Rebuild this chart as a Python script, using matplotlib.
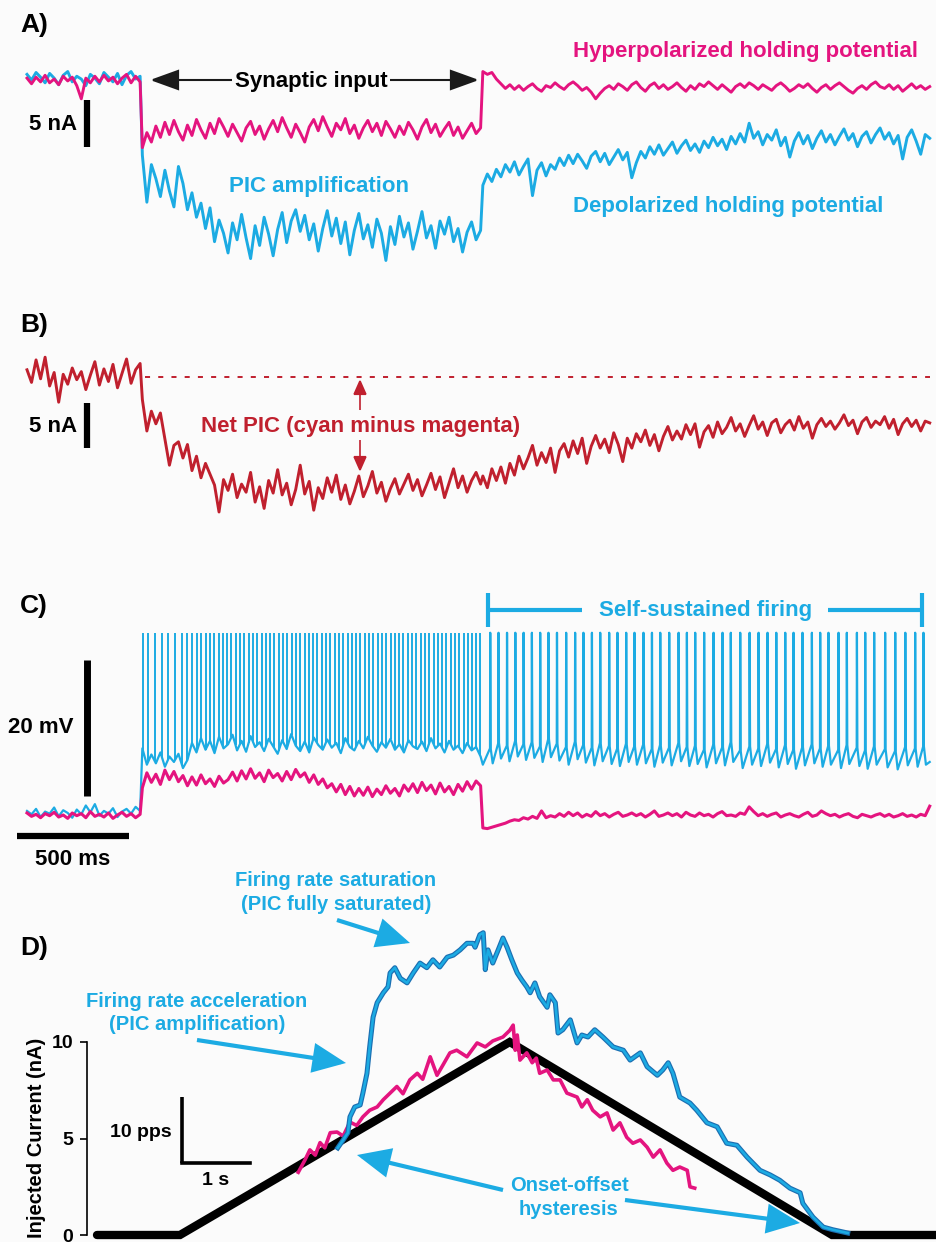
import numpy as np
import matplotlib
matplotlib.use("Agg")
import matplotlib.pyplot as plt
from matplotlib.patches import FancyArrowPatch
from matplotlib.lines import Line2D
import matplotlib.patheffects as pe

# ======================= DATA =======================
T_ONSET, T_OFFSET, T_END = 510, 2030, 4030          # ms (panels A-C)

# ---- Panel A : holding current (nA, relative to baseline)
A_MAG_PRE = [0.2, -0.4, 0.3, -0.2, 0.5, -0.3, 0.1, -0.5, 0.4, -0.1, 0.3, -0.6, -2.0, 0.2, -0.3, 0.4,
             -0.2, 0.5, -0.1, 0.3, -0.4, 0.2, 0.6, -0.3, 0.4, -0.2]
A_MAG_DUR = [-7.2, -5.6, -6.6, -4.9, -6.1, -4.5, -5.8, -4.3, -5.5, -6.4, -4.8, -5.9, -4.2, -5.3, -6.2, -4.6,
             -5.7, -4.1, -5.0, -6.0, -4.7, -5.6, -6.5, -5.1, -4.4, -5.8, -4.9, -6.3, -5.2, -4.3, -5.5, -4.0,
             -5.1, -6.1, -4.7, -5.6, -6.6, -5.0, -4.2, -5.4, -3.9, -5.0, -6.0, -4.6, -5.3, -4.1, -5.7, -4.8,
             -6.2, -5.1, -4.3, -5.5, -4.6, -5.9, -4.4, -5.2, -6.1, -4.9, -5.8, -4.5, -5.3, -6.3, -5.0, -4.2,
             -5.6, -4.7, -6.0, -5.2, -4.5, -5.9, -5.0, -6.2, -5.4, -4.6, -5.7, -5.1]
A_MAG_POST = [0.9, 0.6, 0.8, 0.1, -0.4, -0.9, -0.5, -1.0, -0.6, -1.1, -0.7, -0.4, -0.9, -1.2, -0.6, -0.8,
              -0.3, -0.7, -1.0, -0.5, -0.2, -0.6, -1.1, -0.8, -1.3, -2.0, -1.4, -0.9, -0.6, -1.0, -0.4, -0.7,
              -1.1, -0.5, -0.2, -0.8, -1.2, -0.6, -0.3, -0.9, -0.5, -1.0, -0.7, -0.3, -0.8, -1.2, -0.6, -1.0,
              -0.4, -0.7, -0.2, -0.6, -1.0, -0.5, -0.9, -1.3, -0.7, -0.4, -0.8, -0.3, -0.6, -1.0, -0.5, -0.8,
              -1.1, -0.6, -0.3, -0.7, -1.2, -0.9, -0.5, -0.8, -0.4, -0.9, -1.3, -0.8, -0.5, -1.0, -0.6, -0.3,
              -0.7, -1.1, -1.4, -0.9, -0.6, -1.0, -0.5, -0.2, -0.7, -0.9, -0.5, -1.0, -0.6, -1.2, -0.8, -0.4,
              -0.9, -0.6, -1.0, -0.7]
A_CYAN_PRE = [0.6, 0.0, 0.8, 0.3, -0.3, 0.7, 0.2, -0.5, 0.5, 0.9, -0.2, 0.4, 0.1, -0.6, 0.6, 0.2,
              -0.4, 0.8, 0.3, -0.2, 0.7, -0.5, 0.5, 0.9, 0.1, 0.4]
A_CYAN_DUR = [-8.0, -13.0, -9.0, -10.5, -12.4, -9.6, -11.8, -13.5, -9.2, -11.0, -13.8, -12.0, -14.6, -13.1,
              -15.8, -13.6, -17.2, -14.9, -16.3, -18.4, -15.2, -17.0, -14.3, -16.8, -19.0, -15.5, -17.6,
              -14.6, -16.4, -18.7, -15.9, -14.1, -17.3, -15.0, -13.8, -16.1, -14.4, -17.0, -15.3, -18.2,
              -15.8, -13.9, -16.6, -14.7, -17.4, -15.1, -18.6, -16.0, -14.2, -16.9, -15.4, -17.8, -14.8,
              -16.3, -19.2, -15.6, -17.5, -14.5, -16.7, -15.2, -18.0, -16.1, -14.0, -16.8, -15.5, -17.9,
              -15.0, -16.4, -14.6, -17.2, -15.8, -18.3, -16.2, -15.1, -17.0, -16.0]
A_CYAN_POST = [-11.2, -10.0, -10.8, -9.5, -10.3, -9.0, -9.8, -8.7, -10.1, -9.2, -8.4, -12.3, -9.6, -8.8,
               -10.2, -9.0, -9.5, -8.3, -9.1, -8.0, -8.9, -7.9, -8.6, -9.4, -8.1, -7.6, -8.7, -7.8, -9.0,
               -8.2, -7.4, -8.5, -7.7, -10.4, -8.8, -7.6, -8.3, -7.1, -7.9, -6.9, -8.0, -7.3, -6.6, -7.8,
               -7.0, -6.4, -7.5, -6.8, -7.7, -6.5, -7.2, -6.1, -7.0, -6.3, -7.4, -6.0, -6.8, -5.7, -6.6,
               -4.6, -6.2, -5.5, -6.9, -5.8, -6.4, -5.3, -7.0, -6.1, -8.2, -6.5, -5.6, -6.8, -5.9, -7.3,
               -6.2, -5.4, -6.6, -5.8, -6.9, -6.0, -5.2, -6.4, -5.7, -7.1, -6.0, -5.5, -6.7, -5.8, -5.1,
               -6.3, -5.6, -6.8, -5.9, -8.4, -6.1, -5.3, -6.5, -7.9, -5.8, -6.2]
A_SCALE_NA = 5

# ---- Panel B : net PIC (nA)
B_PRE = [0.8, -0.6, 1.9, -0.2, 2.2, -1.0, 0.5, -2.8, 0.3, -0.8, 1.0, -0.3, 0.6, -1.4, 0.2, 1.7,
         -0.9, 0.9, -0.5, 1.4, -1.2, 0.4, 2.0, -0.7, 0.8, 1.5]
B_DUR = [-2.5, -6.0, -3.8, -5.2, -4.0, -6.9, -9.8, -7.6, -7.2, -9.0, -7.5, -10.4, -8.8, -11.2, -9.6, -10.8,
         -12.0, -15.0, -11.4, -12.6, -10.8, -13.4, -11.9, -12.8, -10.6, -13.9, -12.2, -14.6, -11.5, -12.9,
         -10.3, -13.1, -11.8, -14.2, -12.5, -9.8, -13.0, -11.6, -14.8, -12.3, -13.5, -11.2, -12.8, -10.9,
         -13.6, -12.0, -14.1, -12.7, -11.0, -13.3, -12.1, -10.5, -12.9, -11.7, -13.8, -12.4, -11.3, -13.0,
         -11.9, -10.8, -12.6, -11.4, -13.2, -12.0, -10.7, -12.5, -11.1, -13.4, -11.8, -10.2, -12.3, -11.0,
         -12.8, -11.5, -10.6, -11.9]
B_POST = [-11.0, -12.3, -10.2, -11.5, -10.0, -11.8, -9.6, -10.9, -8.8, -10.2, -9.0, -7.6, -9.8, -8.4, -9.5,
          -7.9, -10.6, -8.2, -7.4, -8.9, -7.1, -8.5, -6.8, -9.6, -7.7, -6.5, -7.9, -6.9, -8.4, -6.2, -7.5,
          -9.4, -6.8, -7.9, -6.3, -7.2, -5.9, -7.6, -6.4, -8.2, -6.6, -5.5, -7.0, -6.0, -6.9, -5.3, -6.4,
          -5.2, -7.8, -6.1, -5.4, -6.7, -5.0, -6.3, -5.6, -4.5, -6.0, -5.2, -6.6, -5.4, -4.3, -5.8, -5.0,
          -6.5, -5.1, -4.7, -6.2, -5.3, -4.8, -5.9, -4.4, -5.7, -5.0, -6.8, -5.3, -4.6, -5.5, -4.9, -5.8,
          -5.1, -4.2, -5.4, -4.8, -6.3, -5.0, -4.5, -5.6, -4.9, -5.3, -4.4, -5.7, -4.7, -6.4, -5.2, -4.6,
          -5.5, -4.8, -6.0, -4.9, -5.1]
B_REF_LEVEL = 0.0
B_SCALE_NA = 5

# ---- Panel C : membrane potential (mV, relative to rest)
C_MAG_PRE = [0.3, -0.2, 0.1, -0.4, 0.2, -0.1, 0.4, -0.3, 0.0, -0.5, 0.3, -0.1, 0.2, -0.4, 0.5, -0.2,
             0.1, -0.3, 0.3, -0.5, 0.0, 0.4, -0.2, 0.2, -0.4, 0.1]
C_MAG_DUR = [4.0, 6.2, 4.8, 6.0, 4.5, 6.6, 5.2, 6.4, 4.9, 5.8, 4.3, 5.6, 4.4, 5.9, 4.6, 5.3, 4.2, 5.7,
             4.7, 5.2, 6.3, 5.0, 6.5, 5.3, 6.8, 5.4, 6.2, 4.9, 6.6, 5.5, 6.1, 5.0, 6.4, 5.2, 6.7, 5.6,
             6.2, 4.8, 5.9, 4.5, 5.3, 4.0, 4.6, 3.4, 4.5, 3.0, 4.2, 2.8, 3.9, 2.9, 4.1, 2.7, 3.8, 3.0,
             4.3, 3.2, 3.9, 2.8, 4.4, 3.5, 4.6, 3.3, 4.8, 3.6, 4.4, 3.1, 4.7, 3.4, 4.2, 3.0, 4.5, 3.5,
             4.9, 3.8, 5.0, 4.3]
C_MAG_POST = [-1.9, -2.0, -1.8, -1.6, -1.4, -1.2, -0.9, -0.7, -0.8, -0.4, -0.6, -0.2, -0.5, 0.6, -0.4,
              -0.1, -0.3, 0.2, -0.2, 0.4, -0.1, 0.3, -0.3, 0.1, -0.2, 0.5, -0.1, 0.2, -0.3, 0.1, 0.4,
              -0.2, 0.0, 0.3, -0.1, 0.2, -0.3, 0.1, 0.6, -0.2, 0.0, 0.3, -0.1, 0.2, -0.3, 0.4, 0.0, -0.2,
              0.3, -0.1, 0.1, -0.3, 0.2, 0.5, -0.1, 0.0, -0.2, 0.3, 0.1, 1.2, 0.5, -0.1, 0.2, -0.2, 0.1,
              0.3, -0.3, 0.0, 0.2, -0.1, -0.3, 0.1, 0.4, -0.2, 0.0, 0.6, 0.2, -0.1, 0.1, -0.3, 0.0, 0.2,
              -0.2, -0.4, 0.1, -0.1, -0.3, 0.0, 0.2, -0.2, 0.1, -0.3, -0.1, 0.2, -0.2, 0.0, -0.3, 0.1,
              -0.1, 1.3]
C_CYAN_PRE = [0.6, 0.1, 0.9, -0.3, 0.5, 0.2, 1.1, -0.2, 0.7, 0.3, -0.4, 0.8, 0.1, 1.4, 0.4, 1.6,
              -0.1, 0.6, 0.2, 1.0, -0.3, 0.5, 0.9, 0.2, 1.2, 0.6]
C_CYAN_DUR = [9.8, 7.4, 8.9, 7.6, 9.2, 7.1, 8.6, 7.8, 9.0, 6.9, 8.1, 10.6, 9.2, 11.3, 9.6, 10.9, 9.1,
              11.5, 9.8, 10.4, 11.8, 9.5, 10.9, 9.3, 11.6, 10.0, 10.7, 9.4, 11.2, 10.1, 9.0, 11.0, 9.7,
              11.9, 10.2, 9.4, 10.8, 9.2, 11.4, 10.3, 9.6, 11.1, 9.9, 10.6, 9.1, 11.3, 10.0, 9.5, 10.9,
              9.8, 11.5, 10.2, 9.3, 10.7, 9.9, 11.2, 9.6, 10.4, 9.2, 11.0, 10.1, 9.7, 10.8, 9.4, 11.3,
              9.8, 10.5, 9.2, 10.9, 9.6, 10.2, 9.1, 10.6, 9.5, 10.0, 8.6]
C_SPIKES_DUR = [518, 540, 571, 603, 629, 661, 692, 714, 737, 759, 778, 797, 817, 835, 855, 873, 893, 912,
                931, 951, 969, 989, 1008, 1027, 1047, 1065, 1085, 1104, 1123, 1143, 1161, 1181, 1200,
                1219, 1239, 1257, 1277, 1296, 1315, 1335, 1353, 1373, 1392, 1411, 1431, 1449, 1469,
                1488, 1507, 1527, 1545, 1565, 1584, 1603, 1623, 1641, 1661, 1680, 1699, 1719, 1737,
                1757, 1776, 1795, 1815, 1833, 1853, 1872, 1891, 1911, 1929, 1949, 1968, 1987, 2006, 2024]
C_SPIKES_POST = [2067, 2104, 2142, 2179, 2216, 2253, 2290, 2327, 2365, 2406, 2446, 2483, 2521, 2558,
                 2598, 2635, 2674, 2711, 2751, 2789, 2826, 2866, 2908, 2945, 2982, 3022, 3064, 3104,
                 3141, 3183, 3225, 3265, 3305, 3344, 3384, 3421, 3461, 3503, 3540, 3577, 3622, 3659,
                 3704, 3741, 3781, 3830, 3875, 3920, 3964, 4001]
C_THRESH_POST = [9.8, 10.6, 10.2, 10.9, 10.4, 10.7, 10.1, 11.2, 10.5, 10.0, 10.8, 10.3, 9.9, 10.6, 10.2,
                 9.8, 10.5, 10.1, 10.4, 9.7, 10.3, 9.9, 10.6, 10.0, 10.2, 9.6, 10.4, 10.0, 10.7, 9.5,
                 10.1, 9.8, 10.5, 9.7, 10.3, 9.6, 10.0, 10.4, 9.8, 10.2, 9.6, 10.3, 9.9, 9.5, 10.1, 9.7,
                 9.4, 10.0, 9.8, 10.1]
C_AHP_POST = [7.6, 8.3, 7.9, 8.6, 8.1, 8.4, 7.8, 8.5, 8.0, 7.4, 8.2, 7.7, 7.3, 7.9, 7.5, 7.2, 7.8, 7.4,
              7.6, 7.1, 7.7, 7.3, 7.9, 7.2, 7.5, 7.0, 7.6, 7.3, 7.8, 6.9, 7.4, 7.2, 7.7, 7.0, 7.5, 6.8,
              7.3, 7.6, 7.1, 7.4, 6.9, 7.5, 7.2, 6.8, 7.4, 7.0, 6.7, 7.3, 7.1, 7.4]
C_POST_START, C_POST_END = 7.4, 7.8
C_SPIKE_PEAK = 26.8
C_SCALE_MV, C_SCALE_MS = 20, 500

# ---- Panel D : current ramp (nA) and firing rates (pps) vs time (s)
D_RAMP_T = [0.0, 1.22, 6.07, 10.81, 12.6]
D_RAMP_I = [0, 0, 10, 0, 0]
D_CYAN_T = [3.54, 3.62, 3.69, 3.72, 3.79, 3.87, 3.91, 3.97, 4.01, 4.06, 4.12, 4.21, 4.28, 4.31, 4.38,
            4.46, 4.56, 4.65, 4.75, 4.85, 4.94, 5.04, 5.15, 5.24, 5.34, 5.44, 5.53, 5.56, 5.63, 5.68,
            5.71, 5.75, 5.82, 5.90, 5.97, 6.03, 6.10, 6.18, 6.25, 6.32, 6.37, 6.44, 6.51, 6.62, 6.66,
            6.74, 6.78, 6.85, 6.96, 7.06, 7.13, 7.22, 7.32, 7.44, 7.59, 7.74, 7.84, 7.99, 8.09, 8.24,
            8.32, 8.40, 8.47, 8.57, 8.72, 8.82, 8.97, 9.12, 9.26, 9.41, 9.56, 9.75, 9.90, 10.04, 10.19,
            10.34, 10.38, 10.53, 10.68, 10.82, 11.04]
D_CYAN_R = [13.2, 14.4, 15.5, 17.9, 19.4, 19.7, 21.5, 24.5, 28.5, 33.0, 35.2, 36.7, 37.6, 39.7, 40.5,
            38.9, 38.2, 39.7, 41.2, 40.5, 41.7, 40.6, 42.1, 42.4, 43.2, 44.2, 44.2, 43.6, 45.5, 45.8,
            40.2, 43.2, 41.2, 43.2, 45.0, 43.6, 41.7, 39.7, 38.6, 37.6, 36.7, 38.2, 36.1, 34.5, 36.4,
            35.2, 30.6, 31.1, 32.6, 29.1, 30.3, 30.0, 31.1, 30.0, 28.5, 28.0, 26.5, 27.6, 25.5, 24.2,
            25.0, 26.1, 24.5, 20.9, 20.0, 18.9, 17.0, 16.4, 13.9, 13.6, 11.8, 9.8, 9.1, 8.3, 7.1,
            6.4, 4.8, 2.7, 1.2, 0.8, 0.3]
D_MAG_T = [2.96, 3.06, 3.13, 3.21, 3.28, 3.35, 3.43, 3.53, 3.62, 3.72, 3.82, 3.91, 4.01, 4.12, 4.21,
           4.31, 4.41, 4.50, 4.60, 4.71, 4.79, 4.90, 5.00, 5.09, 5.19, 5.29, 5.44, 5.59, 5.71, 5.82,
           5.97, 6.07, 6.12, 6.15, 6.18, 6.22, 6.32, 6.40, 6.46, 6.51, 6.62, 6.71, 6.81, 6.91, 7.06,
           7.13, 7.21, 7.29, 7.40, 7.50, 7.59, 7.69, 7.79, 7.88, 7.99, 8.09, 8.18, 8.28, 8.38, 8.47,
           8.57, 8.68, 8.72, 8.79]
D_MAG_R = [9.5, 11.4, 12.9, 12.1, 14.0, 13.2, 15.5, 15.6, 15.0, 17.1, 16.6, 17.9, 18.9, 19.4, 20.5,
           21.5, 22.5, 21.4, 23.5, 24.5, 23.6, 27.0, 24.2, 25.8, 27.6, 28.0, 27.0, 29.1, 28.5, 29.4,
           30.0, 31.0, 31.8, 28.0, 30.3, 26.5, 27.6, 26.1, 26.8, 24.5, 25.0, 23.5, 23.5, 21.5, 20.9,
           19.4, 20.5, 18.9, 17.9, 18.5, 15.9, 17.0, 14.8, 13.9, 14.4, 13.3, 11.8, 12.9, 10.9, 9.8,
           10.3, 9.8, 7.3, 7.1]
D_SCALE_PPS, D_SCALE_S = 10, 1
D_YTICKS = [0, 5, 10]

# ======================= STYLE / LAYOUT =======================
W, H = 937, 1242
MAGENTA = "#E4147F"
CYAN = "#1CABE3"
CYAN_EDGE = "#1B6FB2"
RED = "#C0202E"
BG = "#FBFBFB"

plt.rcParams["font.family"] = ["Liberation Sans", "DejaVu Sans"]
plt.rcParams["font.weight"] = "bold"

fig = plt.figure(figsize=(W / 100, H / 100), dpi=100)
fig.patch.set_facecolor(BG)


def fp(x, y):
    return (x / W, 1 - y / H)


def panel_axes(x0, y0, x1, y1, xlim, ylim, axis_on=False):
    ax = fig.add_axes([x0 / W, 1 - y1 / H, (x1 - x0) / W, (y1 - y0) / H])
    ax.set_xlim(*xlim)
    ax.set_ylim(*ylim)
    ax.patch.set_alpha(0)
    if not axis_on:
        ax.set_axis_off()
    return ax


def ftext(x, y, s, size, color="black", ha="left", va="baseline", **kw):
    fig.text(x / W, 1 - y / H, s, fontsize=size, color=color, ha=ha, va=va,
             fontweight="bold", **kw)


def farrow(p0, p1, color, lw, hl, hw):
    a = FancyArrowPatch(posA=fp(*p0), posB=fp(*p1), transform=fig.transFigure,
                        arrowstyle=f"-|>,head_length={hl},head_width={hw}",
                        mutation_scale=10, lw=lw, color=color, shrinkA=0, shrinkB=0,
                        joinstyle="miter", capstyle="butt")
    fig.add_artist(a)


def fline(xs, ys, color, lw):
    fig.add_artist(Line2D([x / W for x in xs], [1 - y / H for y in ys],
                          transform=fig.transFigure, color=color, lw=lw,
                          solid_capstyle="butt"))


def segments(pre, dur, post):
    t = np.concatenate([np.linspace(0, T_ONSET - 5, len(pre)),
                        np.linspace(T_ONSET + 5, T_OFFSET - 5, len(dur)),
                        np.linspace(T_OFFSET + 5, T_END, len(post))])
    return t, np.concatenate([pre, dur, post])


# time (ms) -> pixel mapping shared by A-C
PX_MS, X_T0 = 0.224, 27
XLIM_ABC = ((10 - X_T0) / PX_MS, (937 - X_T0) / PX_MS)
T_BAR = (87 - X_T0) / PX_MS


def ylim_px(ytop, ybot, yzero, scale):
    return (-(ybot - yzero) / scale, (yzero - ytop) / scale)


# ---------------- Panel A ----------------
axA = panel_axes(10, 30, 937, 270, XLIM_ABC, ylim_px(30, 270, 80, 9.4))
tc, vc = segments(A_CYAN_PRE, A_CYAN_DUR, A_CYAN_POST)
tm, vm = segments(A_MAG_PRE, A_MAG_DUR, A_MAG_POST)
axA.plot(tc, vc, color=CYAN, lw=2.1)
axA.plot(tm, vm, color=MAGENTA, lw=2.1)
axA.plot([T_BAR, T_BAR], [-2.1, -2.1 - A_SCALE_NA], color="black", lw=4.5, solid_capstyle="butt")
ftext(20, 32, "A)", 19)
ftext(77, 130, "5 nA", 16, ha="right")
ftext(311, 87, "Synaptic input", 16, ha="center")
farrow((232, 80), (150, 80), "#1a1a1a", 1.5, 1.8, 0.65)
farrow((390, 80), (479, 80), "#1a1a1a", 1.5, 1.8, 0.65)
ftext(573, 57, "Hyperpolarized holding potential", 16, color=MAGENTA)
ftext(319, 192, "PIC amplification", 16, color=CYAN, ha="center")
ftext(573, 212, "Depolarized holding potential", 16, color=CYAN)

# ---------------- Panel B ----------------
axB = panel_axes(10, 300, 937, 540, XLIM_ABC, ylim_px(300, 540, 377, 9.0))
tb, vb = segments(B_PRE, B_DUR, B_POST)
axB.plot(tb, vb, color=RED, lw=2.1)
axB.plot([T_ONSET + 17, T_END], [B_REF_LEVEL, B_REF_LEVEL], color=RED, lw=1.4,
         linestyle=(0, (2.6, 4.2)))
axB.plot([T_BAR, T_BAR], [-2.9, -2.9 - B_SCALE_NA], color="black", lw=4.5, solid_capstyle="butt")
ftext(20, 332, "B)", 19)
ftext(77, 432, "5 nA", 16, ha="right")
ftext(361, 432, "Net PIC (cyan minus magenta)", 16, color=RED, ha="center")
farrow((360, 410), (360, 379), RED, 1.2, 0.95, 0.42)
farrow((360, 440), (360, 472), RED, 1.2, 0.95, 0.42)

# ---------------- Panel C ----------------
axC = panel_axes(10, 600, 937, 870, XLIM_ABC, ylim_px(600, 870, 815, 6.8))
tcp, vcp = segments(C_CYAN_PRE, C_CYAN_DUR, [C_POST_START])
path_t, path_v = list(tcp), list(vcp)
for k, ts in enumerate(C_SPIKES_POST):
    path_t += [ts, ts + 1, ts + 3, ts + 12]
    path_v += [C_THRESH_POST[k], C_SPIKE_PEAK, C_THRESH_POST[k], C_AHP_POST[k]]
path_t.append(T_END)
path_v.append(C_POST_END)
axC.plot(path_t, path_v, color=CYAN, lw=1.6)
base_at = np.interp(C_SPIKES_DUR, tcp, vcp)
axC.vlines(C_SPIKES_DUR, base_at, C_SPIKE_PEAK, color=CYAN, lw=1.4)
tcm, vcm = segments(C_MAG_PRE, C_MAG_DUR, C_MAG_POST)
axC.plot(tcm, vcm, color=MAGENTA, lw=2.2)
axC.plot([T_BAR, T_BAR], [22.8, 22.8 - C_SCALE_MV], color="black", lw=5, solid_capstyle="butt",
         clip_on=False)
axC.plot([-45, -45 + C_SCALE_MS], [-3.1, -3.1], color="black", lw=4.5, solid_capstyle="butt",
         clip_on=False)
ftext(20, 613, "C)", 19)
ftext(73, 733, "20 mV", 16, ha="right")
ftext(73, 865, "500 ms", 16, ha="center")
ftext(706, 616, "Self-sustained firing", 16, color=CYAN, ha="center")
fline([488, 582], [610, 610], CYAN, 3)
fline([828, 922], [610, 610], CYAN, 3)
fline([488, 488], [593, 627], CYAN, 3)
fline([922, 922], [593, 627], CYAN, 3)

# ---------------- Panel D ----------------
D_XLIM = ((87 - 97) / 68, (937 - 97) / 68)
axD = panel_axes(87, 880, 937, 1240, D_XLIM, ylim_px(880, 1240, 1235, 19.3), axis_on=True)
for s in ("top", "right", "bottom"):
    axD.spines[s].set_visible(False)
axD.spines["left"].set_bounds(0, 10)
axD.spines["left"].set_linewidth(1.2)
axD.set_xticks([])
axD.set_yticks(D_YTICKS)
axD.set_yticklabels([str(v) for v in D_YTICKS], fontsize=14, fontweight="bold")
axD.tick_params(axis="y", length=5, width=1.2, pad=5)
axD.plot(D_RAMP_T, D_RAMP_I, color="black", lw=6, solid_capstyle="round", solid_joinstyle="miter")

axR = panel_axes(87, 880, 937, 1240, D_XLIM, ylim_px(880, 1240, 1235, 6.6))
axR.plot(D_MAG_T, D_MAG_R, color=MAGENTA, lw=2.6, solid_joinstyle="round")
axR.plot(D_CYAN_T, D_CYAN_R, color=CYAN, lw=1.9, solid_joinstyle="round",
         path_effects=[pe.Stroke(linewidth=3.6, foreground=CYAN_EDGE), pe.Normal()])
axR.plot([1.25, 1.25], [10.9 + D_SCALE_PPS, 10.9], color="black", lw=2.6, solid_capstyle="butt")
axR.plot([1.25, 1.25 + D_SCALE_S], [10.9, 10.9], color="black", lw=2.6, solid_capstyle="projecting")

ftext(20, 955, "D)", 19)
ftext(37, 1138, "Injected Current (nA)", 14.5, ha="center", va="center", rotation=90)
ftext(172, 1137, "10 pps", 14, ha="right")
ftext(216, 1185, "1 s", 14, ha="center")
ftext(336, 886, "Firing rate saturation", 14.5, color=CYAN, ha="center")
ftext(336, 910, "(PIC fully saturated)", 14.5, color=CYAN, ha="center")
ftext(197, 1007, "Firing rate acceleration", 14.5, color=CYAN, ha="center")
ftext(197, 1030, "(PIC amplification)", 14.5, color=CYAN, ha="center")
ftext(569, 1191, "Onset-offset", 14.5, color=CYAN, ha="center")
ftext(569, 1215, "hysteresis", 14.5, color=CYAN, ha="center")
farrow((337, 920), (410, 943), CYAN, 3, 1.9, 0.85)
farrow((197, 1040), (346, 1063), CYAN, 3, 1.9, 0.85)
farrow((503, 1190), (357, 1155), CYAN, 3, 1.9, 0.85)
farrow((625, 1200), (800, 1223), CYAN, 3, 1.9, 0.85)

fig.savefig("out.png", dpi=100, facecolor=BG)
